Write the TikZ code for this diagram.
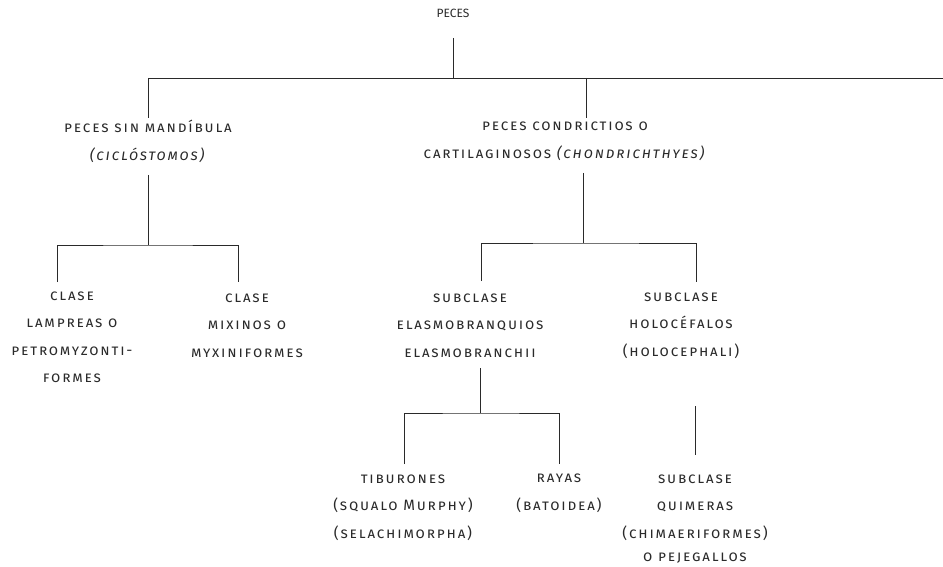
\documentclass[tikz,border=0pt]{standalone}
\usepackage{fontspec}
\usepackage{tikz}
\newfontfamily\treefont{Fira Sans}[LetterSpace=12]
\newfontfamily\topfont{Fira Sans}
\definecolor{ink}{HTML}{2A2A2A}

\begin{document}
\begin{tikzpicture}[x=1pt,y=-1pt,line width=0.8pt,
    taxon/.style={align=center,text=ink,font=\treefont\fontsize{15}{27.5}\selectfont\scshape}]
    \useasboundingbox (0,0) rectangle (943,567);

    \node[text=ink,font=\topfont\fontsize{12}{14}\selectfont](peces) at (453,13) {PECES};
    \node[taxon](sinmand) at (148,141.5) {peces sin mandíbula\\\textit{(ciclóstomos)}};
    \node[taxon](condr) at (565,141.5) {peces condrictios o\\cartilaginosos \textit{(chondrichthyes)}};
    \node[taxon](lamp) at (72,337.5) {clase\\lampreas o\\petromyzonti-\\formes};
    \node[taxon](mix) at (247,325.5) {clase\\mixinos o\\myxiniformes};
    \node[taxon](elasmo) at (470,325.5) {subclase\\elasmobranquios\\elasmobranchii};
    \node[taxon](holo) at (681,325.5) {subclase\\holocéfalos\\(holocephali)};
    \node[taxon](tib) at (403,507.5) {tiburones\\(squalo Murphy)\\(selachimorpha)};
    \node[taxon](rayas) at (559,493.5) {rayas\\(batoidea)};
    \node[taxon](quim) at (695,519) {subclase\\quimeras\\(chimaeriformes)\\[-4pt]o pejegallos};

    % stubs and bars
    \coordinate(peces-b) at (453,38);
    \coordinate(bar0) at (453,78);
    \coordinate(bar0-w) at (148,78);
    \coordinate(bar0-e) at (943,78);
    \coordinate(bar0-m) at (586,78);
    \coordinate(sinmand-t) at (148,118);
    \coordinate(condr-t) at (586,118);

    \coordinate(sinmand-b) at (148,175);
    \coordinate(bar1) at (148,245);
    \coordinate(lamp-t) at (57,282);
    \coordinate(mix-t) at (238,282);

    \coordinate(condr-b) at (583,173);
    \coordinate(bar2) at (583,243);
    \coordinate(elasmo-t) at (481,281);
    \coordinate(holo-t) at (696,282);

    \coordinate(elasmo-b) at (480,368);
    \coordinate(bar3) at (480,413);
    \coordinate(tib-t) at (404,464);
    \coordinate(rayas-t) at (559,464);

    \coordinate(holo-b) at (695,406);
    \coordinate(quim-t) at (695,455);

    \draw[draw=ink](peces-b) -- (bar0)
              (bar0-w) -- (bar0-e)
              (bar0-w) -- (sinmand-t)
              (bar0-m) -- (condr-t);
    \draw[draw=ink](sinmand-b) -- (bar1)
              (lamp-t) |- (bar1) -| (mix-t);
    \draw[draw=ink](condr-b) -- (bar2)
              (elasmo-t) |- (bar2) -| (holo-t);
    \draw[draw=ink](elasmo-b) -- (bar3)
              (tib-t) |- (bar3) -| (rayas-t);
    \draw[draw=ink](holo-b) -- (quim-t);
  \end{tikzpicture}
\end{document}
